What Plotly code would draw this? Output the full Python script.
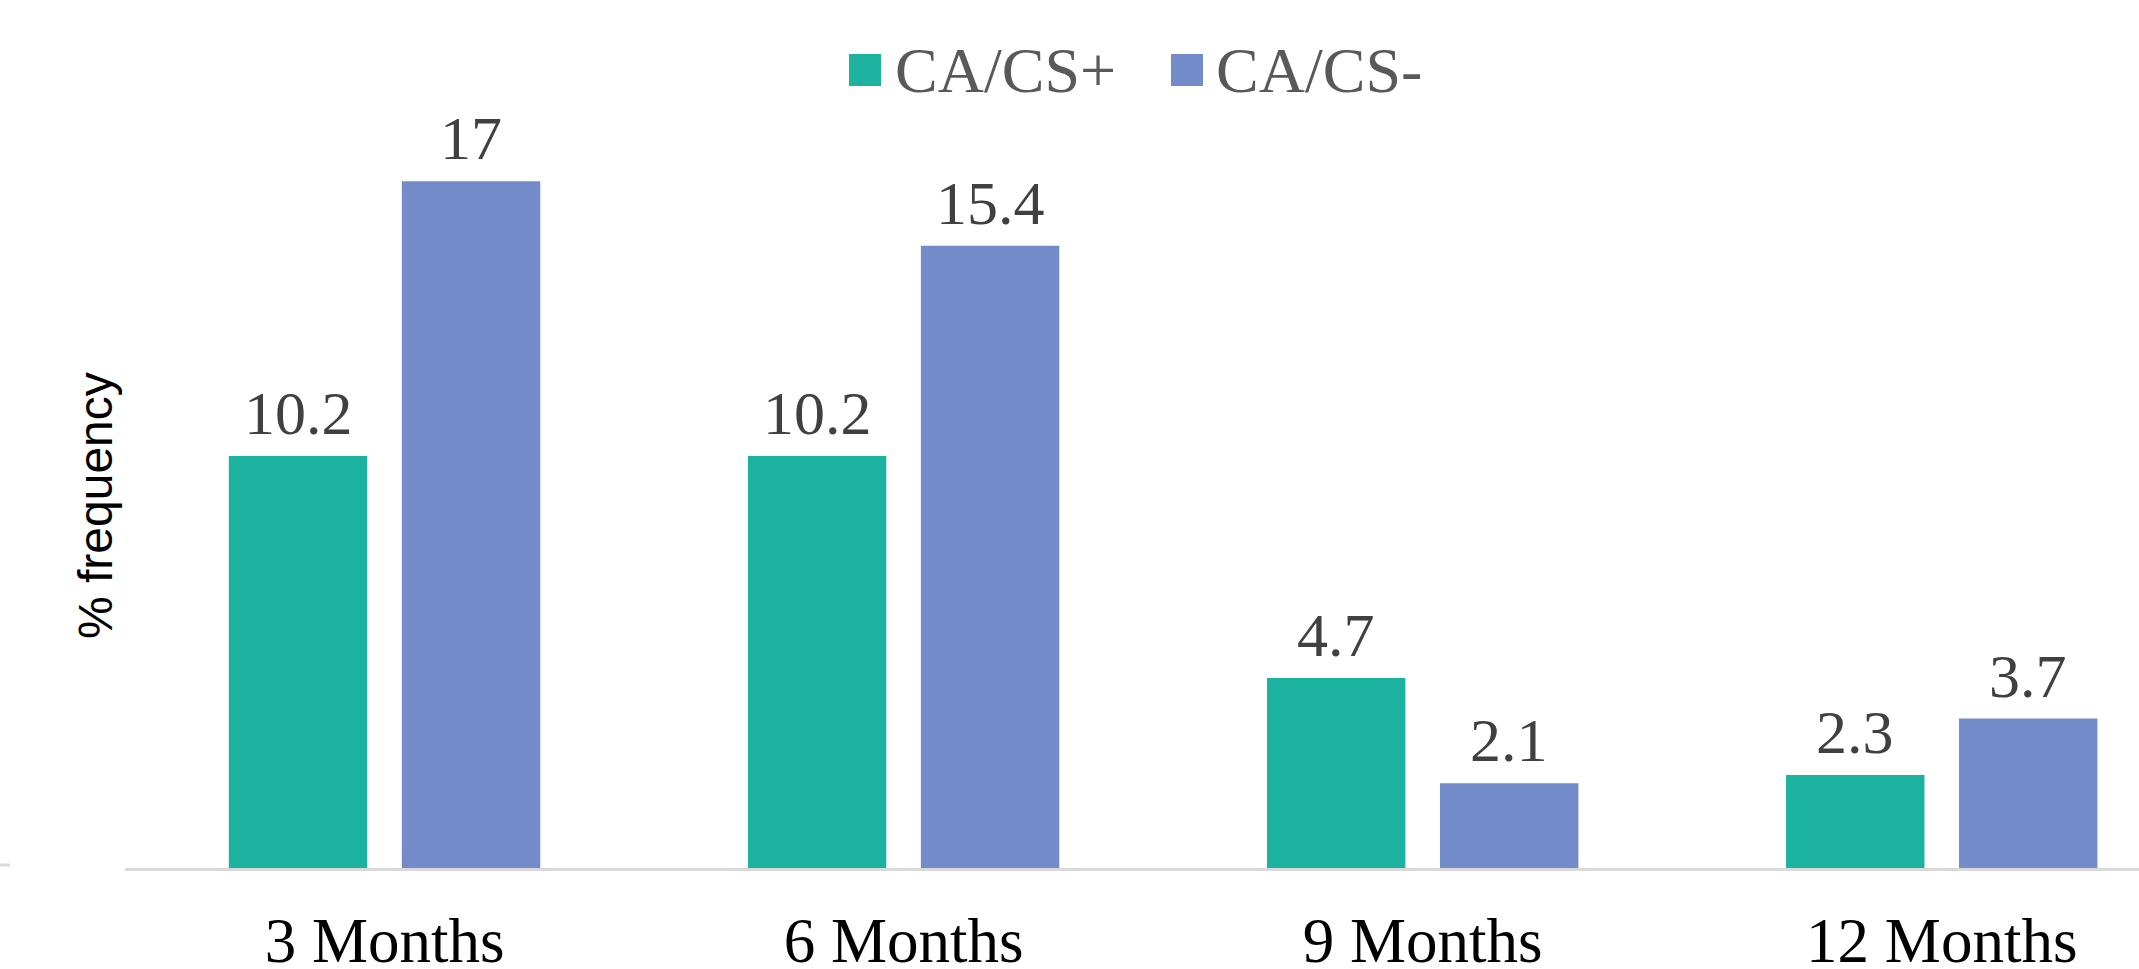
import plotly.graph_objects as go

categories = ["3 Months", "6 Months", "9 Months", "12 Months"]
series_names = ["CA/CS+", "CA/CS-"]
ca_cs_pos = [10.2, 10.2, 4.7, 2.3]
ca_cs_neg = [17, 15.4, 2.1, 3.7]
colors = ["#1bb3a0", "#738bc8"]

W, H = 2139, 969
ML, MR, MT, MB = 125, 0, 60, 101
PW, PH = W - ML - MR, H - MT - MB


def px_x(px):
    return (px - ML) / PW


def px_y(py):
    return (H - MB - py) / PH


fig = go.Figure()
xs = list(range(len(categories)))
for name, vals, col in zip(series_names, [ca_cs_pos, ca_cs_neg], colors):
    fig.add_trace(go.Bar(
        x=xs, y=vals, name=name, marker=dict(color=col, line=dict(width=0)),
        hoverinfo="skip", showlegend=False,
    ))

# value labels above bars
offsets = [-1/6, 1/6]
annotations = []
for off, vals in zip(offsets, [ca_cs_pos, ca_cs_neg]):
    for i, v in enumerate(vals):
        annotations.append(dict(
            x=i + off, y=v, xref="x", yref="y", text=f"{v:g}", showarrow=False,
            yanchor="bottom", yshift=7,
            font=dict(family="Liberation Serif", size=62, color="#404040"),
        ))

# y-axis title
annotations.append(dict(
    x=px_x(95), y=px_y(506), xref="paper", yref="paper",
    text="% frequency", textangle=-90, showarrow=False, xanchor="center", yanchor="middle",
    font=dict(family="Liberation Sans", size=48, color="#000000"),
))

# legend (drawn as swatches + labels, top centre)
shapes = []
legend_sq_left = [849, 1171]
legend_txt_left = [893, 1214]
for name, col, sx, tx in zip(series_names, colors, legend_sq_left, legend_txt_left):
    shapes.append(dict(
        type="rect", xref="paper", yref="paper",
        x0=px_x(sx), x1=px_x(sx + 32), y0=px_y(86), y1=px_y(54),
        fillcolor=col, line=dict(width=0),
    ))
    annotations.append(dict(
        x=px_x(tx), y=px_y(70), xref="paper", yref="paper", text=name,
        showarrow=False, xanchor="left", yanchor="middle",
        font=dict(family="Liberation Serif", size=64, color="#595959"),
    ))

# small stray axis fragment at far left
shapes.append(dict(
    type="line", xref="paper", yref="paper",
    x0=px_x(0), x1=px_x(10), y0=px_y(865), y1=px_y(865),
    line=dict(color="#d9d9d9", width=3),
))

fig.update_layout(
    width=W, height=H,
    margin=dict(l=ML, r=MR, t=MT, b=MB, pad=0, autoexpand=False),
    paper_bgcolor="white", plot_bgcolor="white",
    barmode="group", bargap=1/3, bargroupgap=0.2,
    showlegend=False,
    xaxis=dict(
        tickmode="array", tickvals=xs, ticktext=categories,
        range=[-0.5, 3.38], showgrid=False, zeroline=False,
        showline=True, linecolor="#d9d9d9", linewidth=3, ticks="",
        tickfont=dict(family="Liberation Serif", size=63, color="#000000"),
        ticklabelstandoff=15, automargin=False,
    ),
    yaxis=dict(
        range=[0, 20], showgrid=False, zeroline=False, showline=False,
        showticklabels=False, ticks="", automargin=False,
    ),
    annotations=annotations,
    shapes=shapes,
)

fig.write_html("out.html")
